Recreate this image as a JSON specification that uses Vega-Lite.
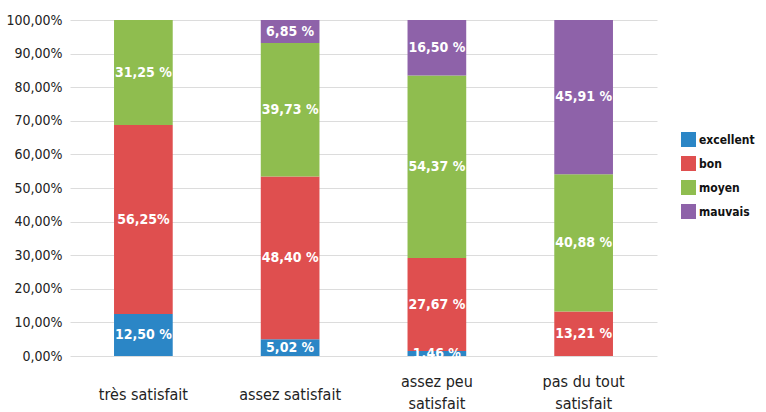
{
  "$schema": "https://vega.github.io/schema/vega-lite/v6.json",
  "width": 587,
  "height": 336,
  "autosize": "none",
  "padding": {"left": 70, "top": 20, "right": 109, "bottom": 56},
  "background": "white",
  "config": {
    "locale": {"number": {"decimal": ",", "thousands": " ", "grouping": [3], "currency": ["", " €"]}},
    "view": {"stroke": null},
    "font": "DejaVu Sans Condensed"
  },
  "data": {"values": [
    {"cat": "très satisfait", "niveau": "excellent", "ord": 1, "val": 0.125, "lab": "12,50 %"},
    {"cat": "très satisfait", "niveau": "bon", "ord": 2, "val": 0.5625, "lab": "56,25%"},
    {"cat": "très satisfait", "niveau": "moyen", "ord": 3, "val": 0.3125, "lab": "31,25 %"},
    {"cat": "assez satisfait", "niveau": "excellent", "ord": 1, "val": 0.0502, "lab": "5,02 %"},
    {"cat": "assez satisfait", "niveau": "bon", "ord": 2, "val": 0.484, "lab": "48,40 %"},
    {"cat": "assez satisfait", "niveau": "moyen", "ord": 3, "val": 0.3973, "lab": "39,73 %"},
    {"cat": "assez satisfait", "niveau": "mauvais", "ord": 4, "val": 0.0685, "lab": "6,85 %"},
    {"cat": "assez peu satisfait", "niveau": "excellent", "ord": 1, "val": 0.0146, "lab": "1,46 %"},
    {"cat": "assez peu satisfait", "niveau": "bon", "ord": 2, "val": 0.2767, "lab": "27,67 %"},
    {"cat": "assez peu satisfait", "niveau": "moyen", "ord": 3, "val": 0.5437, "lab": "54,37 %"},
    {"cat": "assez peu satisfait", "niveau": "mauvais", "ord": 4, "val": 0.165, "lab": "16,50 %"},
    {"cat": "pas du tout satisfait", "niveau": "bon", "ord": 2, "val": 0.1321, "lab": "13,21 %"},
    {"cat": "pas du tout satisfait", "niveau": "moyen", "ord": 3, "val": 0.4088, "lab": "40,88 %"},
    {"cat": "pas du tout satisfait", "niveau": "mauvais", "ord": 4, "val": 0.4591, "lab": "45,91 %"}
  ]},
  "encoding": {
    "x": {
      "field": "cat", "type": "nominal",
      "sort": ["très satisfait", "assez satisfait", "assez peu satisfait", "pas du tout satisfait"],
      "scale": {"paddingInner": 0.6, "paddingOuter": 0.3},
      "axis": {
        "title": null, "labelAngle": 0, "domain": false, "ticks": false,
        "labelFont": "DejaVu Sans Condensed", "labelFontSize": 16, "labelColor": "#222",
        "labelPadding": {"condition": {"test": "datum.value == 'très satisfait' || datum.value == 'assez satisfait'", "value": 43}, "value": 30},
        "labelBaseline": "alphabetic", "labelLineHeight": 22,
        "labelExpr": "datum.value == 'assez peu satisfait' ? ['assez peu', 'satisfait'] : datum.value == 'pas du tout satisfait' ? ['pas du tout', 'satisfait'] : datum.value"
      }
    },
    "y": {
      "field": "val", "type": "quantitative", "stack": "zero",
      "scale": {"domain": [0, 1], "nice": false},
      "axis": {
        "title": null, "format": ".2%", "values": [0, 0.1, 0.2, 0.3, 0.4, 0.5, 0.6, 0.7, 0.8, 0.9, 1],
        "labelOverlap": false,
        "domain": false, "ticks": false, "grid": true, "gridColor": "#dcdcdc", "gridWidth": 1,
        "labelFont": "DejaVu Sans Condensed", "labelFontSize": 14, "labelColor": "#222", "labelPadding": 8
      }
    },
    "order": {"field": "ord", "type": "quantitative"}
  },
  "layer": [
    {
      "mark": {"type": "bar"},
      "encoding": {
        "color": {
          "field": "niveau", "type": "nominal",
          "scale": {"domain": ["excellent", "bon", "moyen", "mauvais"], "range": ["#2b86c6", "#df4f4f", "#8fbd4f", "#8e62a9"]},
          "legend": {
            "title": null, "orient": "none", "legendX": 611, "legendY": 112,
            "symbolType": "square", "symbolSize": 225, "symbolStrokeWidth": 0, "symbolOpacity": 1,
            "labelFont": "DejaVu Sans Condensed", "labelFontSize": 12, "labelFontWeight": "bold", "labelColor": "#111",
            "rowPadding": 9, "labelOffset": 3
          }
        }
      }
    },
    {
      "mark": {"type": "text", "color": "white", "fontWeight": "bold", "fontSize": 14, "font": "DejaVu Sans Condensed", "baseline": "middle"},
      "encoding": {
        "y": {"field": "val", "type": "quantitative", "stack": "zero", "bandPosition": 0.5},
        "text": {"field": "lab", "type": "nominal"}
      }
    }
  ]
}
